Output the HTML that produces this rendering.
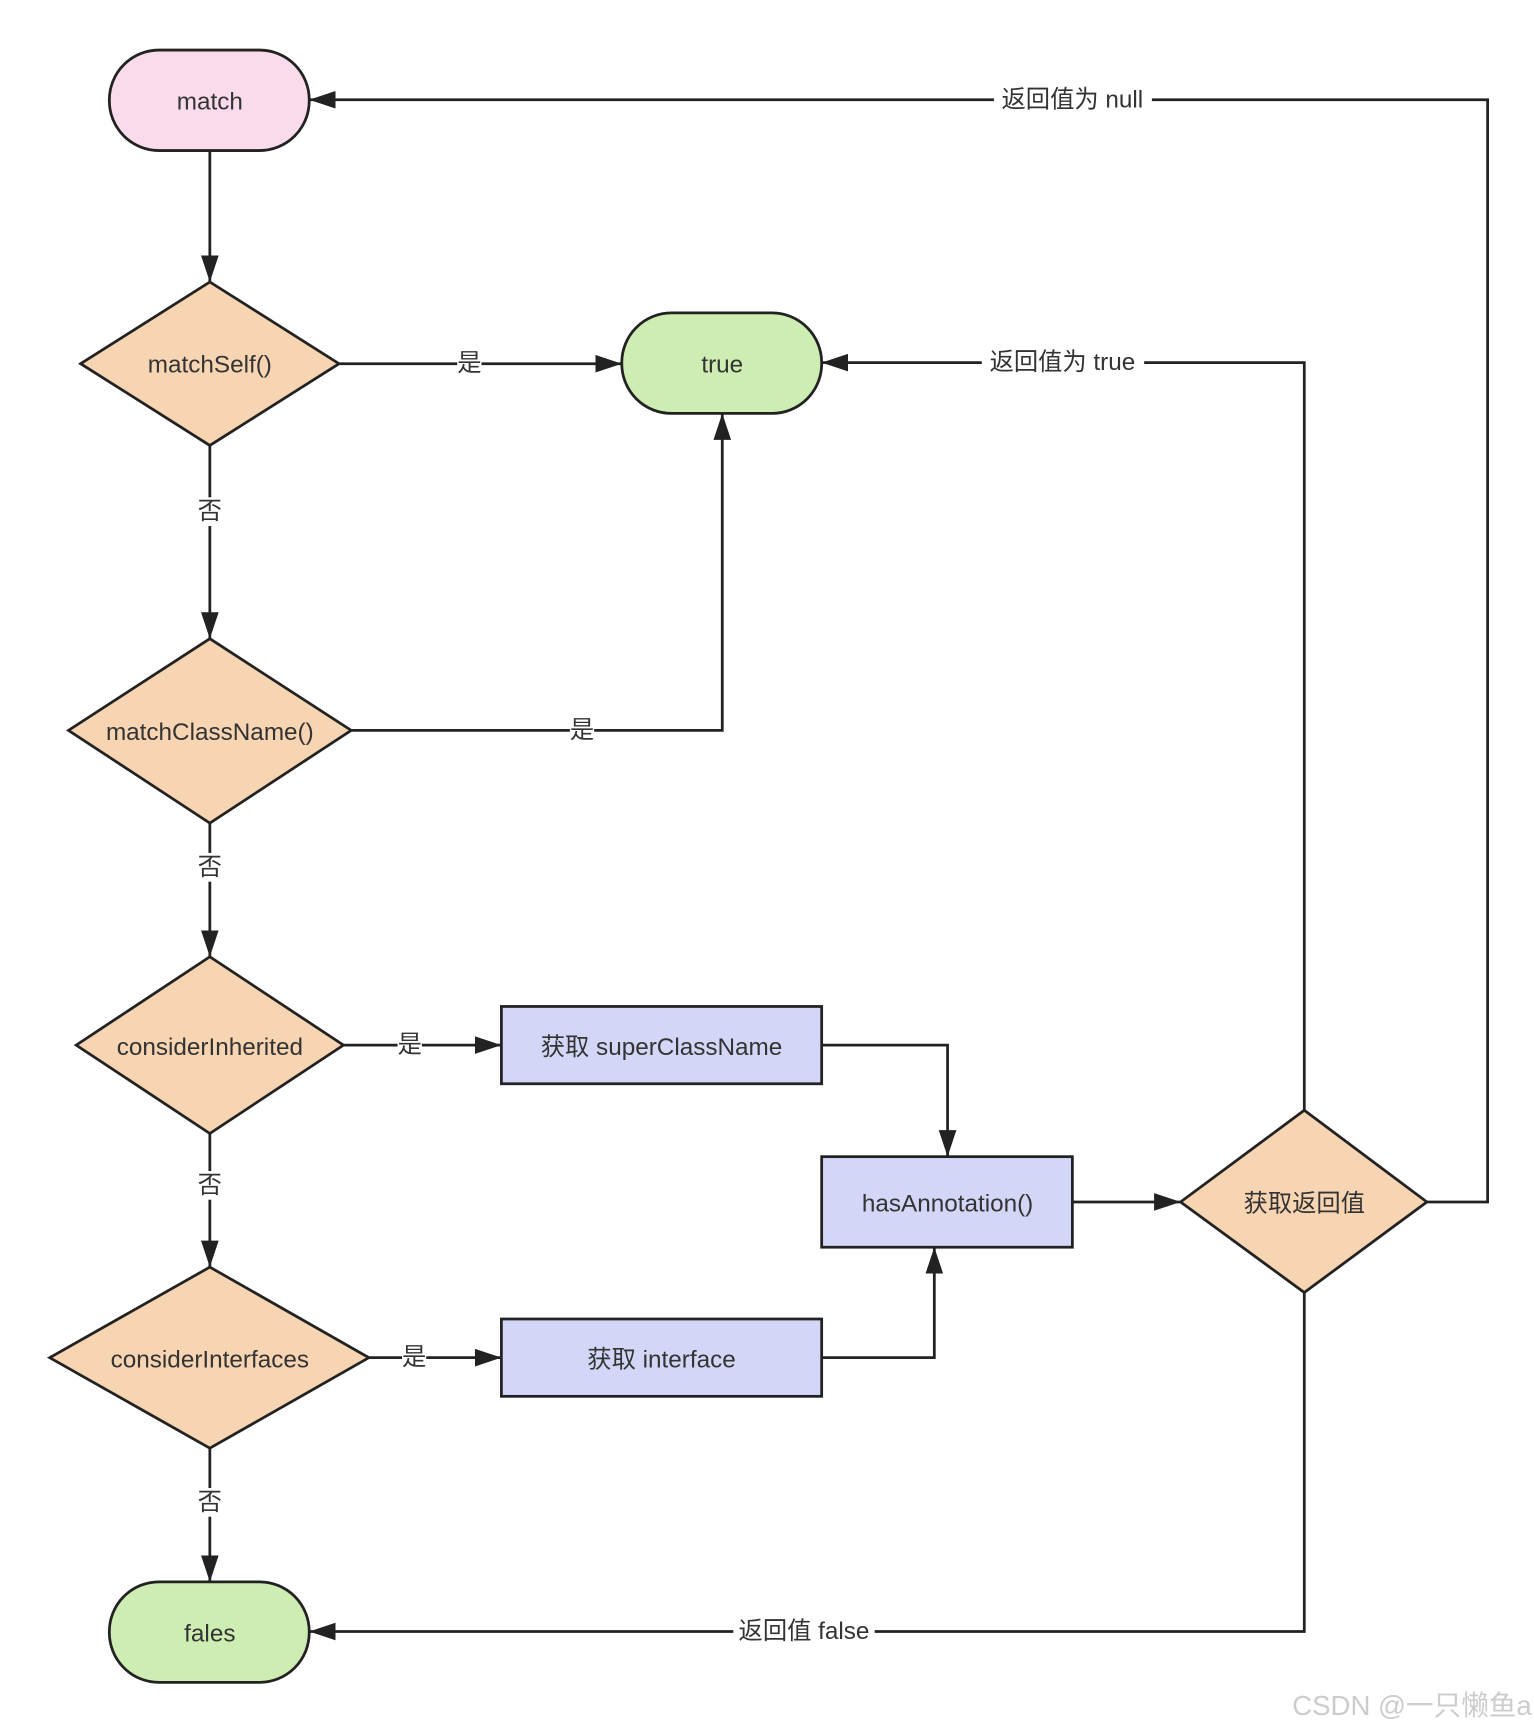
<!DOCTYPE html>
<html><head><meta charset="utf-8"><style>
html,body{margin:0;padding:0;background:#fff;}
svg{display:block;}
text{font-family:"Liberation Sans","Noto Sans CJK SC",sans-serif;fill:#333;}
</style></head><body>
<svg width="1534" height="1728" viewBox="0 0 1389 1564" xmlns="http://www.w3.org/2000/svg">
<defs>
<marker id="b" viewBox="0 0 24 16" markerWidth="24" markerHeight="16" refX="24" refY="8" orient="auto" markerUnits="userSpaceOnUse"><path d="M0,0 L24,8 L0,16 Z" fill="#222"/></marker>
</defs>
<g fill="none" stroke="#222" stroke-width="2.5">
<path d="M190,136 V255" marker-end="url(#b)"/>
<path d="M307,329 H563" marker-end="url(#b)"/>
<path d="M190,403 V578" marker-end="url(#b)"/>
<path d="M318,661 H654 V374" marker-end="url(#b)"/>
<path d="M190,745 V866" marker-end="url(#b)"/>
<path d="M311,946 H454" marker-end="url(#b)"/>
<path d="M190,1026 V1147" marker-end="url(#b)"/>
<path d="M334,1229 H454" marker-end="url(#b)"/>
<path d="M190,1311 V1432" marker-end="url(#b)"/>
<path d="M744,946 H858 V1047" marker-end="url(#b)"/>
<path d="M744,1229 H846 V1129" marker-end="url(#b)"/>
<path d="M971,1088 H1069" marker-end="url(#b)"/>
<path d="M1181,1005 V328 H744" marker-end="url(#b)"/>
<path d="M1292,1088 H1347 V90 H280" marker-end="url(#b)"/>
<path d="M1181,1170 V1477 H280" marker-end="url(#b)"/>
</g>
<g stroke="#222" stroke-width="2.5">
<rect x="99" y="45" width="181" height="91" rx="45" fill="#fadbeb"/>
<rect x="563" y="283" width="181" height="91" rx="45" fill="#cdedb3"/>
<rect x="99" y="1432" width="181" height="91" rx="45" fill="#cdedb3"/>
<polygon points="73,329 190,255 307,329 190,403" fill="#f7d4b2"/>
<polygon points="62,661 190,578 318,661 190,745" fill="#f7d4b2"/>
<polygon points="69,946 190,866 311,946 190,1026" fill="#f7d4b2"/>
<polygon points="45,1229 190,1147 334,1229 190,1311" fill="#f7d4b2"/>
<polygon points="1069,1088 1181,1005 1292,1088 1181,1170" fill="#f7d4b2"/>
<rect x="454" y="911" width="290" height="70" fill="#d3d6f7"/>
<rect x="744" y="1047" width="227" height="82" fill="#d3d6f7"/>
<rect x="454" y="1194" width="290" height="70" fill="#d3d6f7"/>
</g>
<g font-size="22" text-anchor="middle" dominant-baseline="central">
<text x="190" y="92">match</text>
<text x="654" y="330">true</text>
<text x="190" y="1479">fales</text>
<text x="190" y="330">matchSelf()</text>
<text x="190" y="663">matchClassName()</text>
<text x="190" y="948">considerInherited</text>
<text x="190" y="1231">considerInterfaces</text>
<text x="1181" y="1090">获取返回值</text>
<text x="599" y="948">获取 superClassName</text>
<text x="858" y="1090">hasAnnotation()</text>
<text x="599" y="1231">获取 interface</text>
</g>
<g font-size="22" text-anchor="middle" dominant-baseline="central">
<rect x="414" y="316" width="22" height="26" fill="#fff"/><text x="425" y="329">是</text>
<rect x="179" y="450" width="22" height="26" fill="#fff"/><text x="190" y="463">否</text>
<rect x="516" y="648" width="22" height="26" fill="#fff"/><text x="527" y="661">是</text>
<rect x="179" y="772" width="22" height="26" fill="#fff"/><text x="190" y="785">否</text>
<rect x="360" y="933" width="22" height="26" fill="#fff"/><text x="371" y="946">是</text>
<rect x="179" y="1060" width="22" height="26" fill="#fff"/><text x="190" y="1073">否</text>
<rect x="364" y="1216" width="22" height="26" fill="#fff"/><text x="375" y="1229">是</text>
<rect x="179" y="1347" width="22" height="26" fill="#fff"/><text x="190" y="1360">否</text>
<rect x="889" y="314" width="147" height="28" fill="#fff"/><text x="962" y="328">返回值为 true</text>
<rect x="900" y="76" width="143" height="28" fill="#fff"/><text x="971" y="90">返回值为 null</text>
<rect x="664" y="1463" width="128" height="28" fill="#fff"/><text x="728" y="1477">返回值 false</text>
</g>
<text x="1387" y="1544" font-size="25" text-anchor="end" dominant-baseline="central" style="fill:#ccc">CSDN @一只懒鱼a</text>
</svg>
</body></html>
